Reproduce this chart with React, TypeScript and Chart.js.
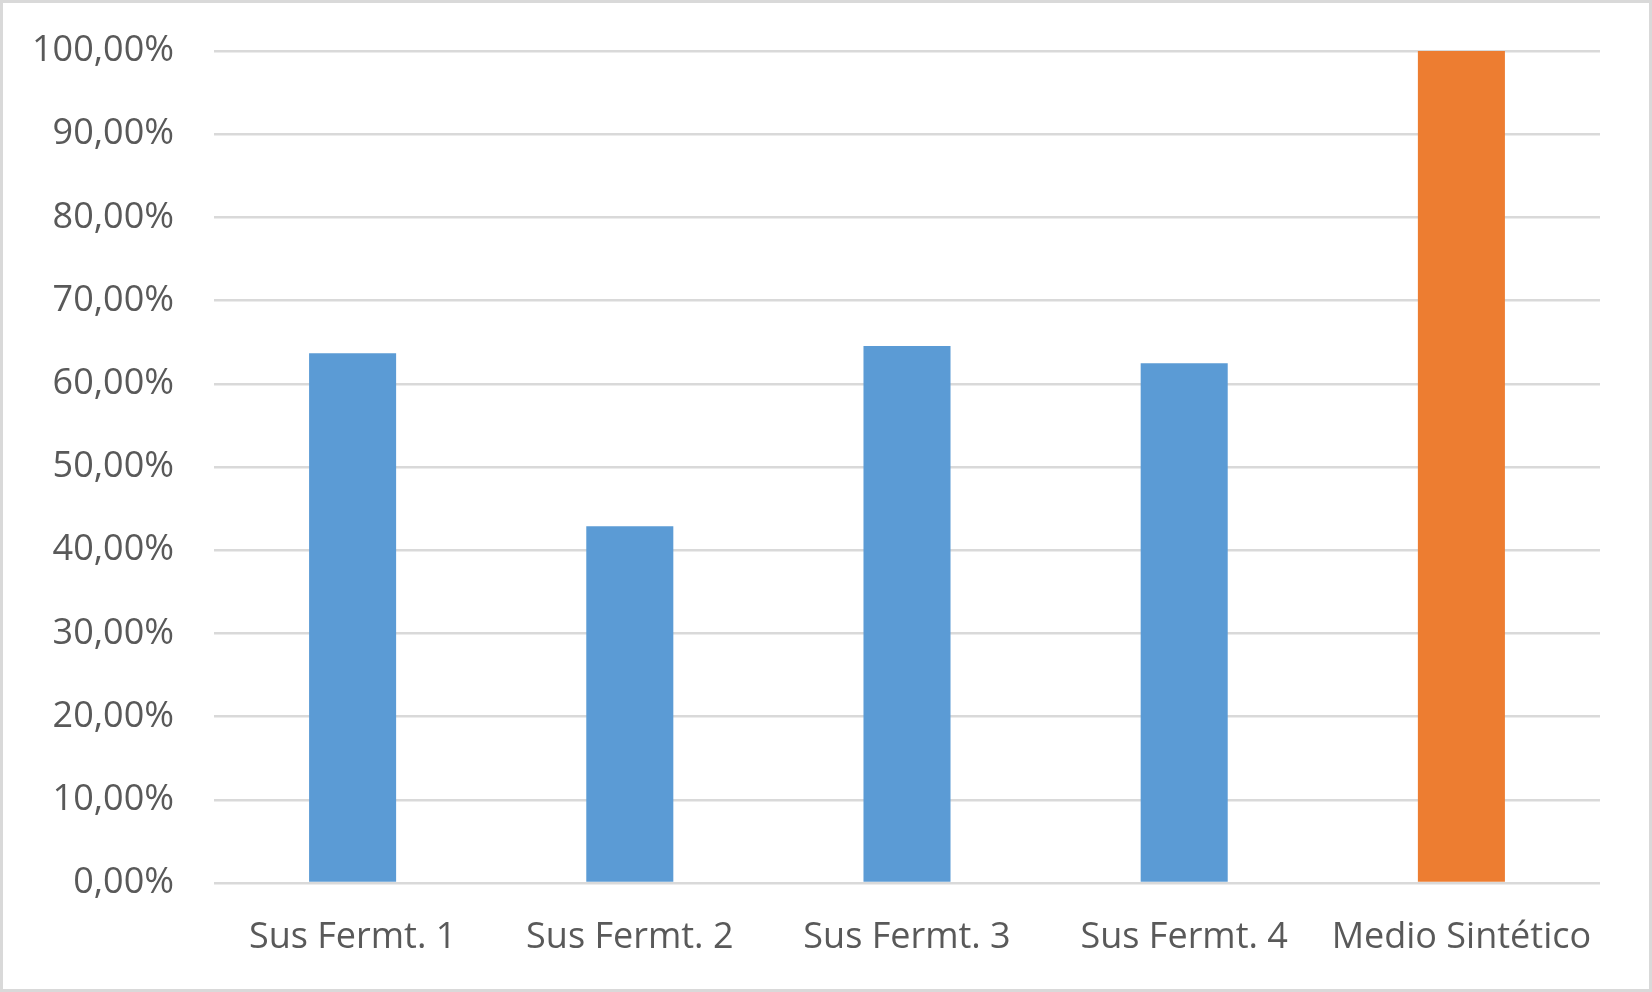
import React, { useEffect, useRef } from "react";
import { Chart, registerables } from "chart.js";

Chart.register(...registerables);

const categories = ["Sus Fermt. 1", "Sus Fermt. 2", "Sus Fermt. 3", "Sus Fermt. 4", "Medio Sintético"];
const values = [0.6366, 0.4287, 0.6454, 0.6246, 1.0];
const barColors = ["#5B9BD5", "#5B9BD5", "#5B9BD5", "#5B9BD5", "#ED7D31"];
const yTickValues = [0, 0.1, 0.2, 0.3, 0.4, 0.5, 0.6, 0.7, 0.8, 0.9, 1.0];

const FONT = "'Open Sans', 'Noto Sans', sans-serif";

const frame = {
  id: "frame",
  beforeDraw(chart: any) {
    const { ctx, width, height } = chart;
    ctx.save();
    ctx.fillStyle = "#ffffff";
    ctx.fillRect(0, 0, width, height);
    ctx.restore();
  },
  afterDraw(chart: any) {
    const { ctx, width, height } = chart;
    ctx.save();
    ctx.strokeStyle = "#d9d9d9";
    ctx.lineWidth = 3;
    ctx.strokeRect(1.5, 1.5, width - 3, height - 3);
    ctx.restore();
  },
};

export default function App() {
  const ref = useRef<HTMLCanvasElement | null>(null);

  useEffect(() => {
    document.body.style.margin = "0";
    const canvas = ref.current;
    if (!canvas) return;
    const chart = new Chart(canvas, {
      type: "bar",
      data: {
        labels: categories,
        datasets: [
          {
            data: values,
            backgroundColor: barColors,
            borderWidth: 0,
            categoryPercentage: 1,
            barPercentage: 0.314,
          },
        ],
      },
      plugins: [frame],
      options: {
        animation: false,
        responsive: false,
        maintainAspectRatio: false,
        layout: { padding: { top: 51, right: 52, bottom: 33, left: 20 } },
        plugins: {
          legend: { display: false },
          tooltip: { enabled: false },
        },
        scales: {
          x: {
            grid: { display: false, drawTicks: false },
            border: { display: false },
            ticks: {
              color: "#595959",
              font: { family: FONT, size: 36 },
              padding: 33,
              maxRotation: 0,
              autoSkip: false,
            },
            afterFit(scale: any) {
              scale.height = 76;
            },
          },
          y: {
            min: 0,
            max: 1,
            afterBuildTicks(scale: any) {
              scale.ticks = yTickValues.map((v) => ({ value: v }));
            },
            grid: { color: "#d9d9d9", lineWidth: 2.5, drawTicks: false },
            border: { display: false },
            ticks: {
              color: "#595959",
              font: { family: FONT, size: 36 },
              padding: 40,
              callback: (v: any) => (Number(v) * 100).toFixed(2).replace(".", ",") + "%",
            },
            afterFit(scale: any) {
              scale.width = 194;
              scale.paddingTop = 0;
              scale.paddingBottom = 0;
            },
          },
        },
      },
    });
    return () => chart.destroy();
  }, []);

  return (
    <div style={{ position: "absolute", left: 0, top: 0, width: 1652, height: 992 }}>
      <canvas ref={ref} width={1652} height={992} style={{ width: 1652, height: 992, display: "block" }} />
    </div>
  );
}
